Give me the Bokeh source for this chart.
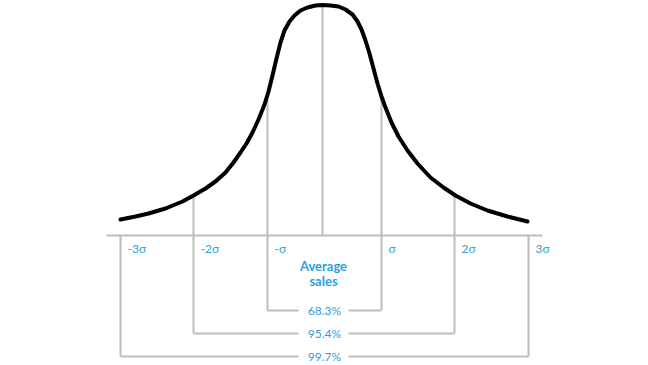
from bokeh.plotting import figure
from bokeh.models import Range1d
from bokeh.embed import file_html
from bokeh.resources import INLINE
from bokeh.core.properties import value

# Bell curve outline (x: offset from mean, y: height above baseline)
curve_x = [-202, -187, -174, -157, -140, -129, -117, -107, -97, -89, -82, -76, -70, -64, -58,
           -54, -50, -46, -42, -38, -33, -28, -22, -15, -7, 0,
           8, 16, 23, 30, 35, 39, 43, 47, 51, 55, 59, 63, 69, 76, 85, 95, 108, 121, 133,
           148, 165, 185, 205]
curve_y = [16, 19, 22, 27, 34, 40, 47, 54, 63, 73, 83, 92, 103, 116, 131,
           144, 160, 177, 193, 205, 214, 220, 225, 228, 230, 230.5,
           230, 229, 226, 221, 214, 206, 195, 182, 167, 152, 139, 128, 113, 99, 85, 72, 58, 48, 40,
           32, 25, 19, 14]

# Sigma markers
sigma_labels = ["-3σ", "-2σ", "-σ", "σ", "2σ", "3σ"]
sigma_x = [-202, -129, -55, 59, 132, 206]
sigma_top = [0, 40, 136, 139, 41, 0]
sigma_bottom = [-121, -98, -75, -75, -98, -121]

mean_x = 0
mean_top = 230
mean_label = ["Average", "sales"]

# Brackets (inner to outer)
pct_labels = ["68.3%", "95.4%", "99.7%"]
bracket_left = [-55, -129, -202]
bracket_right = [59, 132, 206]
bracket_y = [-75, -98, -121]

baseline_x = [-216, 220]

GRAY = "#bdbdbd"
BLUE = "#2b9fdb"
FONT = "Lato"

p = figure(width=648, height=365, output_backend="svg", toolbar_location=None,
           x_range=Range1d(-322, 326), y_range=Range1d(-130, 235),
           min_border=0, min_border_left=0, min_border_right=0,
           min_border_top=0, min_border_bottom=0)
p.axis.visible = False
p.grid.visible = False
p.outline_line_color = None
p.background_fill_color = "white"

# baseline
p.line(baseline_x, [0, 0], line_color=GRAY, line_width=2)

# vertical sigma lines
p.segment(x0=sigma_x, y0=sigma_top, x1=sigma_x, y1=sigma_bottom, line_color=GRAY, line_width=2)
# mean line
p.segment(x0=[mean_x], y0=[mean_top], x1=[mean_x], y1=[0], line_color=GRAY, line_width=2)

# bracket horizontals with gap for text
gap = 24
p.segment(x0=bracket_left, y0=bracket_y, x1=[-gap] * 3, y1=bracket_y, line_color=GRAY, line_width=2)
p.segment(x0=[gap + 2] * 3, y0=bracket_y, x1=bracket_right, y1=bracket_y, line_color=GRAY, line_width=2)

# bell curve
p.line(curve_x, curve_y, line_color="black", line_width=4, line_join="round", line_cap="round")

# sigma labels
p.text(x=[sx + 7 for sx in sigma_x], y=[-13] * 6, text=sigma_labels,
       text_color=BLUE, text_font=value(FONT), text_font_size="12px",
       text_baseline="middle", text_align="left")

# mean label
p.text(x=[mean_x + 1, mean_x + 1], y=[-30, -45], text=mean_label,
       text_color=BLUE, text_font=value(FONT), text_font_size="13px", text_font_style="bold",
       text_baseline="middle", text_align="center")

# percentages
p.text(x=[mean_x + 2] * 3, y=bracket_y, text=pct_labels,
       text_color=BLUE, text_font=value(FONT), text_font_size="12px",
       text_baseline="middle", text_align="center")

open("out.html", "w").write(file_html(p, INLINE))
